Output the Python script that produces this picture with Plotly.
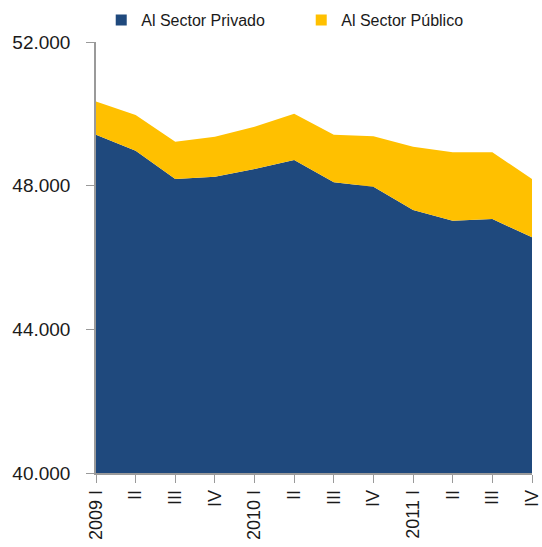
import plotly.graph_objects as go

quarters = ['2009 I', 'II', 'III', 'IV', '2010 I', 'II', 'III', 'IV',
            '2011 I', 'II', 'III', 'IV']
privado = [49420, 48975, 48185, 48250, 48465, 48715, 48095, 47970,
           47325, 47025, 47070, 46565]
publico = [920, 995, 1040, 1115, 1175, 1285, 1325, 1405,
           1760, 1905, 1860, 1620]
y_ticks = [40000, 44000, 48000, 52000]

AZUL = '#1F497D'
AMARILLO = '#FFC000'
EJE = '#9a9a9a'
FONT = 'Liberation Sans'

xs = list(range(len(quarters)))

fig = go.Figure()
fig.add_trace(go.Scatter(
    x=xs, y=privado, stackgroup='uno', mode='none',
    fillcolor=AZUL, name='Al Sector Privado', showlegend=False,
))
fig.add_trace(go.Scatter(
    x=xs, y=publico, stackgroup='uno', mode='none',
    fillcolor=AMARILLO, name='Al Sector Público', showlegend=False,
))
# cuadros de la leyenda
for nombre, color in [('Al Sector Privado', AZUL), ('Al Sector Público', AMARILLO)]:
    fig.add_trace(go.Scatter(
        x=[None], y=[None], mode='markers', name=nombre,
        marker=dict(symbol='square', size=11, color=color),
    ))

fig.update_layout(
    width=542,
    height=547,
    margin=dict(l=96, r=10, t=42, b=74, autoexpand=False),
    paper_bgcolor='white',
    plot_bgcolor='white',
    separators=',.',
    font=dict(family=FONT, color='#1a1a1a'),
    showlegend=True,
    legend=dict(
        orientation='h',
        traceorder='normal',
        x=0.012, xanchor='left',
        y=1.051, yanchor='middle',
        font=dict(size=16, family=FONT),
        entrywidth=155,
        itemclick=False,
    ),
)
fig.update_xaxes(
    range=[0, len(quarters) - 1],
    tickvals=xs,
    ticktext=quarters,
    tickangle=-90,
    ticks='outside', ticklen=8, tickcolor=EJE,
    showline=True, linecolor=EJE, linewidth=1.5,
    showgrid=False, zeroline=False,
    tickfont=dict(size=18, family=FONT),
)
fig.update_yaxes(
    range=[40000, 52000],
    tickvals=y_ticks,
    tickformat=',.0f',
    ticks='outside', ticklen=8, tickcolor=EJE,
    showline=True, linecolor=EJE, linewidth=1.5,
    showgrid=True, gridcolor=EJE, gridwidth=1.5,
    zeroline=False,
    ticklabelstandoff=12,
    tickfont=dict(size=19, family=FONT),
)

fig.write_html("out.html", config={'displayModeBar': False},
               post_script="document.body.style.margin='0';")
